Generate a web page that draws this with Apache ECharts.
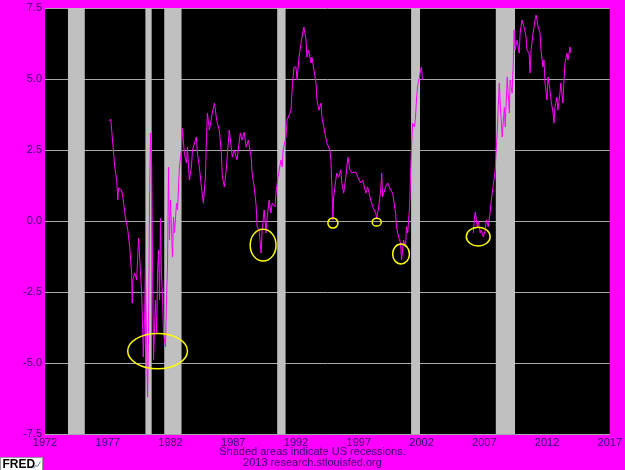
<!DOCTYPE html>
<html>
<head>
<meta charset="utf-8">
<script src="https://cdn.jsdelivr.net/npm/echarts@6/dist/echarts.min.js"></script>
<style>
  html, body { margin: 0; padding: 0; background: #ff00ff; }
  #main { width: 625px; height: 470px; }
</style>
</head>
<body>
<div id="main"></div>
<script>
// spread, [year, value], first stretch (1977 - 2002)
const spreadA = [
  [1977.08,3.52],[1977.24,3.59],[1977.40,2.75],[1977.56,1.90],[1977.71,1.44],[1977.80,0.74],
  [1977.87,1.16],[1978.10,1.09],[1978.20,0.85],[1978.40,0.14],[1978.60,-0.32],[1978.75,-0.92],
  [1978.90,-1.83],[1978.95,-2.89],[1979.00,-2.08],[1979.14,-1.83],[1979.30,-2.08],[1979.46,-0.60],
  [1979.54,-1.27],[1979.70,-2.54],[1979.78,-3.73],[1979.83,-4.79],[1979.94,-3.38],[1980.00,-1.62],
  [1980.17,-6.20],[1980.25,-3.94],[1980.33,0.74],[1980.41,3.10],[1980.50,1.90],[1980.57,-1.62],
  [1980.65,-4.90],[1980.80,-2.78],[1980.90,-3.94],[1980.97,-1.83],[1981.05,-1.02],[1981.13,-2.78],
  [1981.20,0.10],[1981.28,-1.83],[1981.37,-2.78],[1981.44,-3.94],[1981.60,-4.43],[1981.68,-2.78],
  [1981.76,-1.62],[1981.84,1.90],[1981.92,-0.67],[1982.00,0.74],[1982.16,-1.27],[1982.24,0.14],
  [1982.32,-0.42],[1982.48,0.63],[1982.56,0.39],[1982.71,1.90],[1982.87,2.50],[1982.95,3.27],
  [1983.10,2.39],[1983.27,2.04],[1983.35,2.60],[1983.50,1.44],[1983.67,1.90],[1983.75,2.50],
  [1984.06,2.96],[1984.14,2.39],[1984.30,1.90],[1984.46,1.20],[1984.62,0.63],[1984.78,1.55],
  [1984.86,2.85],[1984.94,3.80],[1985.10,3.20],[1985.33,3.80],[1985.50,4.15],[1985.65,3.66],
  [1985.73,3.45],[1985.89,3.20],[1986.05,2.39],[1986.13,1.55],[1986.29,1.20],[1986.44,1.80],
  [1986.68,3.20],[1986.84,2.60],[1986.92,2.25],[1987.08,2.50],[1987.30,2.15],[1987.56,3.10],
  [1987.70,2.85],[1987.87,3.13],[1988.03,2.60],[1988.20,2.85],[1988.43,2.25],[1988.50,1.69],
  [1988.67,1.20],[1988.83,0.50],[1988.90,-0.20],[1989.06,-0.32],[1989.22,-1.13],[1989.30,-0.32],
  [1989.46,0.39],[1989.62,-0.42],[1989.70,0.14],[1989.86,0.74],[1990.00,0.28],[1990.10,0.63],
  [1990.33,0.50],[1990.40,0.98],[1990.57,1.55],[1990.80,2.15],[1990.90,1.90],[1990.97,2.50],
  [1991.20,2.96],[1991.29,3.56],[1991.52,3.80],[1991.60,3.90],[1991.70,4.72],[1991.84,5.42],
  [1992.00,5.42],[1992.08,4.96],[1992.24,5.77],[1992.40,6.27],[1992.48,6.48],[1992.63,6.83],
  [1992.80,6.37],[1992.87,5.77],[1993.00,6.02],[1993.20,5.56],[1993.27,5.77],[1993.43,5.32],
  [1993.59,4.86],[1993.67,4.26],[1993.83,3.90],[1994.00,4.15],[1994.06,3.66],[1994.30,3.10],
  [1994.46,2.75],[1994.70,2.50],[1994.78,2.15],[1994.86,1.20],[1994.94,0.04],[1995.00,0.85],
  [1995.17,1.44],[1995.25,1.69],[1995.40,1.55],[1995.57,1.80],[1995.65,1.34],[1995.80,0.98],
  [1995.97,1.55],[1996.13,2.25],[1996.29,1.80],[1996.44,1.69],[1996.76,1.73],[1996.92,1.55],
  [1997.16,1.34],[1997.32,1.44],[1997.56,0.98],[1997.71,1.20],[1997.95,0.74],[1998.11,0.50],
  [1998.35,0.28],[1998.43,0.10],[1998.59,0.50],[1998.75,1.09],[1998.83,1.69],[1998.90,0.85],
  [1999.14,1.20],[1999.30,1.34],[1999.54,1.09],[1999.70,0.98],[1999.86,0.50],[1999.94,0.28],
  [2000.00,-0.20],[2000.17,-0.56],[2000.33,-0.77],[2000.41,-1.37],[2000.57,-0.67],[2000.73,-0.92],
  [2000.80,-0.20],[2000.90,-0.42],[2001.05,0.50],[2001.13,1.69],[2001.20,2.60],[2001.29,3.45],
  [2001.44,3.31],[2001.52,3.66],[2001.60,4.26],[2001.68,4.72],[2001.84,5.07],[2001.92,5.32],
  [2002.00,5.42],[2002.08,4.96]
];

// second stretch (2006 - 2013)
const spreadB = [
  [2006.13,-0.42],[2006.20,0.04],[2006.29,0.32],[2006.44,-0.20],[2006.52,0.00],[2006.68,-0.42],
  [2006.76,-0.32],[2006.92,-0.56],[2007.08,-0.32],[2007.16,0.04],[2007.32,-0.20],[2007.46,0.28],
  [2007.56,0.74],[2007.70,1.20],[2007.87,1.80],[2007.95,2.50],[2008.03,3.10],[2008.10,3.90],
  [2008.20,4.86],[2008.27,4.15],[2008.35,3.56],[2008.43,2.96],[2008.60,4.00],[2008.67,3.31],
  [2008.83,5.07],[2009.00,3.80],[2009.06,4.96],[2009.22,4.50],[2009.30,5.42],[2009.38,6.73],
  [2009.46,6.02],[2009.62,6.37],[2009.78,5.91],[2009.86,6.62],[2010.00,7.08],[2010.17,6.83],
  [2010.33,6.48],[2010.40,6.02],[2010.57,5.91],[2010.65,5.21],[2010.73,6.02],[2010.89,6.62],
  [2011.05,7.08],[2011.13,7.25],[2011.29,6.83],[2011.44,6.62],[2011.52,6.02],[2011.68,5.42],
  [2011.76,5.67],[2011.84,4.86],[2012.00,4.26],[2012.08,5.07],[2012.24,4.61],[2012.32,4.26],
  [2012.48,3.80],[2012.56,3.45],[2012.63,4.00],[2012.79,4.36],[2012.87,3.90],[2013.03,4.50],
  [2013.10,4.86],[2013.27,4.15],[2013.35,4.96],[2013.43,5.56],[2013.59,5.91],[2013.67,5.67],
  [2013.83,6.13],[2013.90,5.91]
];

// US recessions (start, end in years)
const recStart = [1973.83, 1980.00, 1981.50, 1990.50, 2001.17, 2007.92];
const recEnd   = [1975.17, 1980.50, 1982.88, 1991.17, 2001.88, 2009.45];

// circled lows: [year, value, half width (years), half height (value)]
const rings = [
  [1980.97, -4.58, 2.38, 0.62],
  [1989.38, -0.85, 1.03, 0.56],
  [1994.94, -0.07, 0.40, 0.18],
  [1998.43, -0.04, 0.36, 0.14],
  [2000.37, -1.16, 0.67, 0.35],
  [2006.52, -0.55, 0.95, 0.33]
];

const yTicks = [-7.5, -5, -2.5, 0, 2.5, 5, 7.5];

const lineData = spreadA.concat([[2002.15, '-']], spreadB);

const chart = echarts.init(document.getElementById('main'));

const option = {
  backgroundColor: '#ff00ff',
  animation: false,
  grid: {
    left: 45, right: 13, top: 8, bottom: 36,
    show: true,
    backgroundColor: '#000000',
    borderWidth: 0
  },
  xAxis: {
    type: 'value',
    min: 1972, max: 2017, interval: 5,
    axisLine: { show: false },
    axisTick: { show: false },
    splitLine: { show: false },
    axisLabel: {
      color: '#330066', fontSize: 11, fontFamily: 'Liberation Sans, Arial, sans-serif',
      margin: 3, formatter: v => String(Math.round(v))
    }
  },
  yAxis: {
    type: 'value',
    min: yTicks[0], max: yTicks[yTicks.length - 1], interval: 2.5,
    axisLine: { show: false },
    axisTick: { show: false },
    splitLine: { show: true, lineStyle: { color: '#a8a8a8', width: 1 } },
    axisLabel: {
      color: '#330066', fontSize: 11, fontFamily: 'Liberation Sans, Arial, sans-serif',
      margin: 3, formatter: v => v.toFixed(1)
    }
  },
  series: [
    {
      name: 'recessions',
      type: 'line',
      data: [],
      z: 1,
      silent: true,
      markArea: {
        silent: true,
        itemStyle: { color: '#c0c0c0', opacity: 1 },
        data: recStart.map((s, i) => [{ xAxis: s }, { xAxis: recEnd[i] }])
      }
    },
    {
      name: 'spread',
      type: 'line',
      data: lineData,
      z: 3,
      showSymbol: false,
      connectNulls: false,
      lineStyle: { color: '#ff00ff', width: 1 }
    },
    {
      name: 'rings',
      type: 'custom',
      z: 4,
      silent: true,
      data: rings,
      renderItem: (params, api) => {
        const c = api.coord([api.value(0), api.value(1)]);
        const s = api.size([api.value(2), api.value(3)]);
        return {
          type: 'ellipse',
          shape: { cx: c[0], cy: c[1], rx: s[0], ry: s[1] },
          style: { fill: null, stroke: '#ffff00', lineWidth: 1.5 }
        };
      }
    }
  ],
  graphic: [
    {
      type: 'text', left: 'center', top: 446,
      style: { text: 'Shaded areas indicate US recessions.', fill: '#330066',
               font: '11px Liberation Sans, Arial, sans-serif' }
    },
    {
      type: 'text', left: 'center', top: 457,
      style: { text: '2013 research.stlouisfed.org', fill: '#330066',
               font: '11px Liberation Sans, Arial, sans-serif' }
    },
    {
      type: 'group', left: 0, top: 457,
      children: [
        { type: 'rect', shape: { x: 0, y: 0, width: 42, height: 13 },
          style: { fill: '#ffffff', stroke: '#999999', lineWidth: 1 } },
        { type: 'text', x: 2, y: 1,
          style: { text: 'FRED', fill: '#000000', font: 'bold 12px Liberation Sans, Arial, sans-serif' } },
        { type: 'polyline', shape: { points: [[33, 11], [35, 8], [37, 9], [40, 4]] },
          style: { stroke: '#6688aa', lineWidth: 1, fill: null } }
      ]
    }
  ]
};

chart.setOption(option);
</script>
</body>
</html>
